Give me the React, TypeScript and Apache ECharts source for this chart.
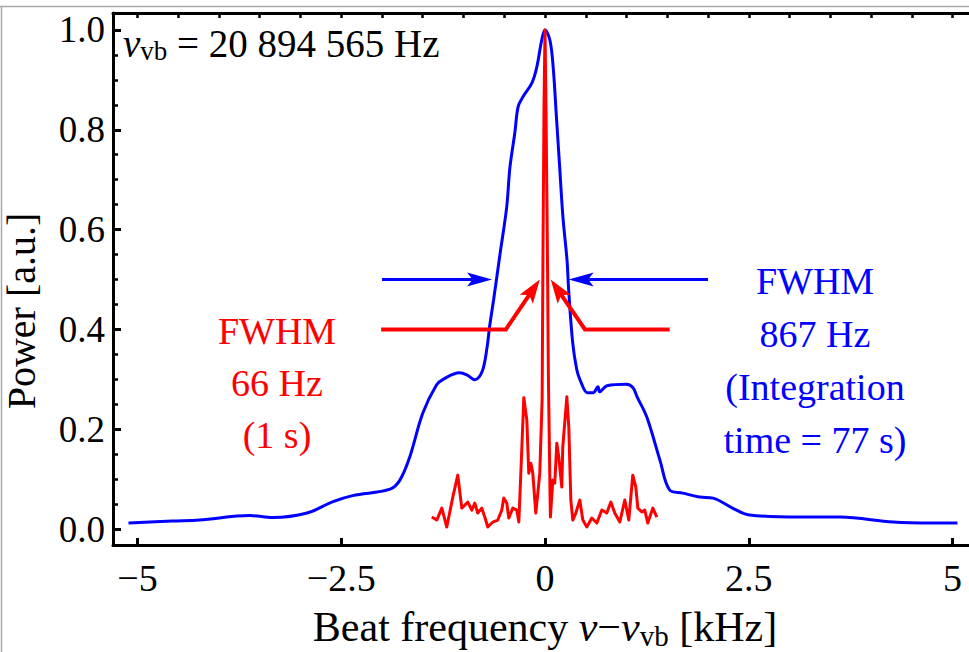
import React, { useEffect, useRef } from 'react';
import * as echarts from 'echarts';

const FONT = '"Liberation Serif", "Times New Roman", serif';

// Blue: long integration (77 s) beat spectrum
const blueX = [-5.11, -4.57, -4.24, -3.62, -3.34, -2.92, -2.6, -2.36, -1.9, -1.78, -1.66, -1.5, -1.33, -1.25, -1.05, -0.96, -0.86, -0.77, -0.71, -0.68, -0.63, -0.55, -0.47, -0.43, -0.37, -0.33, -0.27, -0.16, -0.1, -0.04, 0, 0.06, 0.1, 0.14, 0.18, 0.22, 0.27, 0.29, 0.34, 0.39, 0.43, 0.52, 0.59, 0.65, 0.67, 0.76, 1.0, 1.08, 1.13, 1.25, 1.41, 1.53, 1.69, 1.9, 2.06, 2.3, 2.51, 3.13, 3.62, 4.27, 4.76, 5.06];
const blueY = [0.012, 0.016, 0.018, 0.027, 0.023, 0.032, 0.055, 0.067, 0.08, 0.098, 0.144, 0.232, 0.289, 0.3, 0.313, 0.309, 0.299, 0.316, 0.365, 0.405, 0.46, 0.553, 0.645, 0.725, 0.794, 0.846, 0.866, 0.894, 0.926, 0.98, 1.0, 0.98, 0.926, 0.826, 0.725, 0.625, 0.539, 0.48, 0.373, 0.319, 0.299, 0.273, 0.273, 0.285, 0.275, 0.287, 0.29, 0.283, 0.265, 0.224, 0.138, 0.078, 0.072, 0.064, 0.062, 0.042, 0.028, 0.024, 0.024, 0.014, 0.012, 0.012];

// Red: 1 s beat spectrum
const redX = [-1.389, -1.328, -1.266, -1.205, -1.131, -1.07, -1.021, -0.983, -0.947, -0.898, -0.861, -0.825, -0.776, -0.739, -0.702, -0.64, -0.579, -0.53, -0.506, -0.469, -0.444, -0.395, -0.346, -0.321, -0.285, -0.26, -0.223, -0.199, -0.174, -0.15, -0.113, -0.088, -0.064, -0.035, -0.025, -0.012, 0, 0.012, 0.03, 0.042, 0.066, 0.096, 0.12, 0.145, 0.169, 0.206, 0.218, 0.268, 0.292, 0.317, 0.341, 0.378, 0.427, 0.464, 0.513, 0.574, 0.636, 0.697, 0.758, 0.808, 0.856, 0.918, 0.979, 1.028, 1.077, 1.114, 1.139, 1.188, 1.224, 1.261, 1.323, 1.372];
const redY = [0.024, 0.018, 0.042, 0.004, 0.064, 0.108, 0.042, 0.048, 0.054, 0.038, 0.052, 0.032, 0.042, 0.024, 0.004, 0.014, 0.018, 0.038, 0.062, 0.052, 0.022, 0.042, 0.038, 0.014, 0.158, 0.263, 0.218, 0.112, 0.132, 0.112, 0.032, 0.072, 0.112, 0.26, 0.55, 0.85, 1.0, 0.85, 0.55, 0.3, 0.024, 0.098, 0.092, 0.172, 0.144, 0.084, 0.164, 0.265, 0.204, 0.058, 0.018, 0.032, 0.058, 0.018, 0.004, 0.022, 0.012, 0.038, 0.032, 0.054, 0.032, 0.014, 0.058, 0.018, 0.108, 0.084, 0.042, 0.034, 0.038, 0.012, 0.042, 0.024];

// Axis ticks
const xTicks = [-5, -2.5, 0, 2.5, 5];
const xMinorTicks = [-5, -4.5, -4, -3.5, -3, -2.5, -2, -1.5, -1, -0.5, 0, 0.5, 1, 1.5, 2, 2.5, 3, 3.5, 4, 4.5, 5];
const yTicks = [0, 0.2, 0.4, 0.6, 0.8, 1.0];
const yMinorTicks = [0.05, 0.1, 0.15, 0.25, 0.3, 0.35, 0.45, 0.5, 0.55, 0.65, 0.7, 0.75, 0.85, 0.9, 0.95];
const xRange = [-5.3, 5.3];
const yRange = [-0.032, 1.034];

// FWHM annotation arrows (data coordinates, last point = tip)
const blueArrowLeft = [[-2.0, 0.5], [-0.65, 0.5]];
const blueArrowRight = [[2.0, 0.5], [0.29, 0.5]];
const redArrowLeft = [[-2.01, 0.4], [-0.48, 0.4], [-0.064, 0.5]];
const redArrowRight = [[1.53, 0.4], [0.49, 0.4], [0.07, 0.5]];

const BLUE = '#0000ff';
const RED = '#ff0000';

function arrowSeries(pts: number[][], color: string, width: number, headL: number, headW: number) {
  return {
    type: 'custom',
    xAxisIndex: 0,
    yAxisIndex: 0,
    silent: true,
    z: 5,
    data: [pts[pts.length - 1]],
    renderItem: (_params: any, api: any) => {
      const p = pts.map((q) => api.coord(q));
      const tip = p[p.length - 1];
      const prev = p[p.length - 2];
      const dx = tip[0] - prev[0];
      const dy = tip[1] - prev[1];
      const len = Math.hypot(dx, dy) || 1;
      const ux = dx / len;
      const uy = dy / len;
      const nx = -uy;
      const ny = ux;
      const base = [tip[0] - ux * headL, tip[1] - uy * headL];
      const notch = [tip[0] - ux * headL * 0.78, tip[1] - uy * headL * 0.78];
      const linePts = p.slice(0, -1).concat([notch]);
      return {
        type: 'group',
        children: [
          { type: 'polyline', shape: { points: linePts }, style: { stroke: color, lineWidth: width, fill: 'none' } },
          {
            type: 'polygon',
            shape: {
              points: [
                tip,
                [base[0] + (nx * headW) / 2, base[1] + (ny * headW) / 2],
                notch,
                [base[0] - (nx * headW) / 2, base[1] - (ny * headW) / 2],
              ],
            },
            style: { fill: color },
          },
        ],
      };
    },
  };
}

const fmtX = (v: number) => (v < 0 ? '\u2212' + Math.abs(v) : String(v));

export default function App() {
  const ref = useRef<HTMLDivElement>(null);
  useEffect(() => {
    if (!ref.current) return;
    const chart = echarts.init(ref.current, undefined, { renderer: 'svg' });
    const richBase = {
      t: { fontFamily: FONT, fontSize: 42, lineHeight: 46, color: '#000' },
      i: { fontFamily: FONT, fontSize: 42, lineHeight: 46, fontStyle: 'italic', color: '#000' },
      s: { fontFamily: FONT, fontSize: 29, lineHeight: 27, verticalAlign: 'bottom', color: '#000' },
    };
    const option: any = {
      animation: false,
      backgroundColor: '#fff',
      grid: { left: 113, top: 13, width: 864, height: 532, containLabel: false, outerBoundsMode: 'none' },
      xAxis: [
        {
          type: 'value',
          position: 'bottom',
          min: xRange[0],
          max: xRange[1],
          axisLine: { show: true, onZero: false, lineStyle: { color: '#000', width: 3 } },
          axisTick: { show: true, inside: true, length: 7, customValues: xTicks, lineStyle: { color: '#000', width: 3 } },
          axisLabel: { show: true, customValues: xTicks, formatter: fmtX, fontFamily: FONT, fontSize: 38, color: '#000', margin: 14 },
          splitLine: { show: false },
          name: '{t|Beat frequency }{i|\u03bd}{t|\u2212}{i|\u03bd}{s|vb}{t| [kHz]}',
          nameLocation: 'middle',
          nameGap: 59,
          nameTextStyle: { fontFamily: FONT, fontSize: 42, color: '#000', rich: richBase },
        },
        {
          type: 'value',
          position: 'top',
          min: xRange[0],
          max: xRange[1],
          axisLine: { show: true, onZero: false, lineStyle: { color: '#000', width: 3 } },
          axisTick: { show: true, inside: true, length: 5, customValues: xMinorTicks, lineStyle: { color: '#000', width: 2.5 } },
          axisLabel: { show: false },
          splitLine: { show: false },
        },
      ],
      yAxis: [
        {
          type: 'value',
          position: 'left',
          min: yRange[0],
          max: yRange[1],
          axisLine: { show: true, onZero: false, lineStyle: { color: '#000', width: 3 } },
          axisTick: { show: true, inside: true, length: 8, customValues: yTicks, lineStyle: { color: '#000', width: 3 } },
          axisLabel: { show: true, customValues: yTicks, formatter: (v: number) => v.toFixed(1), fontFamily: FONT, fontSize: 37, color: '#000', margin: 8 },
          splitLine: { show: false },
          name: 'Power [a.u.]',
          nameLocation: 'middle',
          nameGap: 72,
          nameTextStyle: { fontFamily: FONT, fontSize: 40, color: '#000', padding: [0, 64, 0, 0] },
        },
        {
          type: 'value',
          position: 'left',
          min: yRange[0],
          max: yRange[1],
          axisLine: { show: false, onZero: false },
          axisTick: { show: true, inside: true, length: 5, customValues: yMinorTicks, lineStyle: { color: '#000', width: 2.5 } },
          axisLabel: { show: false },
          splitLine: { show: false },
        },
      ],
      series: [
        {
          type: 'line',
          name: '77 s',
          xAxisIndex: 0,
          yAxisIndex: 0,
          data: blueX.map((x, i) => [x, blueY[i]]),
          showSymbol: false,
          symbol: 'none',
          smooth: 0.35,
          lineStyle: { color: BLUE, width: 3 },
          z: 2,
        },
        {
          type: 'line',
          name: '1 s',
          xAxisIndex: 0,
          yAxisIndex: 0,
          data: redX.map((x, i) => [x, redY[i]]),
          showSymbol: false,
          symbol: 'none',
          lineStyle: { color: RED, width: 3, join: 'round' },
          z: 3,
        },
        arrowSeries(blueArrowLeft, BLUE, 3, 25, 14),
        arrowSeries(blueArrowRight, BLUE, 3, 25, 14),
        arrowSeries(redArrowLeft, RED, 4, 24, 16),
        arrowSeries(redArrowRight, RED, 4, 24, 16),
      ],
      graphic: [
        { type: 'line', silent: true, shape: { x1: 0, y1: 6.5, x2: 969, y2: 6.5 }, style: { stroke: '#a8a8a8', lineWidth: 1.5 } },
        { type: 'line', silent: true, shape: { x1: 1.5, y1: 6, x2: 1.5, y2: 652 }, style: { stroke: '#a8a8a8', lineWidth: 1.5 } },
        {
          type: 'text',
          silent: true,
          x: 123,
          y: 22,
          style: {
            text: '{i|\u03bd}{s|vb}{t| = 20 894 565 Hz}',
            rich: {
              t: { fontFamily: FONT, fontSize: 39, lineHeight: 42, fill: '#000' },
              i: { fontFamily: FONT, fontSize: 39, lineHeight: 42, fontStyle: 'italic', fill: '#000' },
              s: { fontFamily: FONT, fontSize: 27, lineHeight: 22, verticalAlign: 'bottom', fill: '#000' },
            },
          },
        },
        {
          type: 'text',
          silent: true,
          x: 277,
          y: 305,
          style: {
            text: 'FWHM\n66 Hz\n(1 s)',
            fill: RED,
            fontFamily: FONT,
            fontSize: 38,
            lineHeight: 52,
            align: 'center',
            textAlign: 'center',
          },
        },
        {
          type: 'text',
          silent: true,
          x: 815,
          y: 254,
          style: {
            text: 'FWHM\n867 Hz\n(Integration\ntime = 77 s)',
            fill: BLUE,
            fontFamily: FONT,
            fontSize: 38,
            lineHeight: 53,
            align: 'center',
            textAlign: 'center',
          },
        },
      ],
    };
    chart.setOption(option);
    return () => chart.dispose();
  }, []);
  return (
    <div
      ref={ref}
      style={{ position: 'fixed', left: 0, top: 0, width: 969, height: 652, background: '#fff' }}
    />
  );
}
